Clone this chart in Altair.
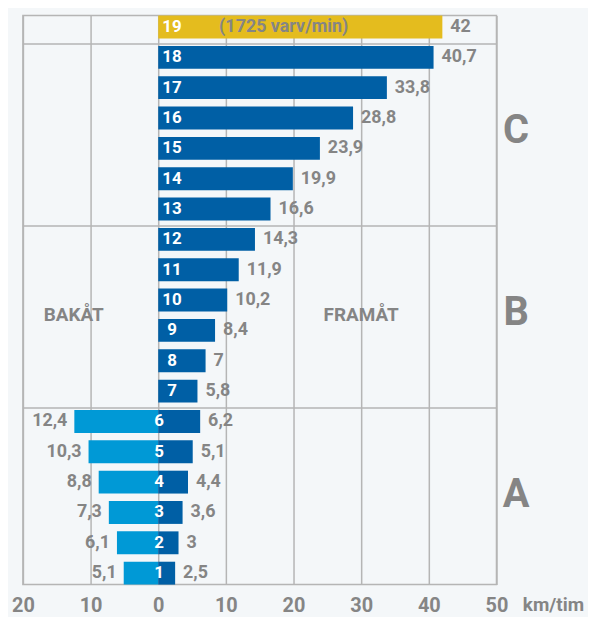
import altair as alt
import pandas as pd

# ---- data ----
gears = list(range(1, 20))
forward = [2.5, 3, 3.6, 4.4, 5.1, 6.2, 5.8, 7, 8.4, 10.2, 11.9, 14.3, 16.6, 19.9, 23.9, 28.8, 33.8, 40.7, 42]
back_gears = [1, 2, 3, 4, 5, 6]
backward = [5.1, 6.1, 7.3, 8.8, 10.3, 12.4]
x_ticks = [-20, -10, 0, 10, 20, 30, 40, 50]
region_letters = ["A", "B", "C"]
region_anchor = [3, 9, 15]
separator_gears = [6, 12, 18]
direction_labels = ["BAKÅT", "FRAMÅT"]
direction_x = [-12.5, 30]
rpm_note = "(1725 varv/min)"
unit = "km/tim"

FONT = "Roboto"
BG = "#f4f7f9"
GRID = "#b5b5b5"
GRAY = "#858585"
DARK = "#005fa5"
LIGHT = "#0099d6"
GOLD = "#e4bc1e"


def fmt(v):
    return f"{v:g}".replace(".", ",")


fwd = pd.DataFrame({"gear": gears, "speed": forward, "label": [fmt(v) for v in forward]})
fwd["kind"] = ["max" if g == 19 else "fwd" for g in gears]
fwd["name"] = [str(g) for g in gears]
bwd = pd.DataFrame({"gear": back_gears, "speed": [-v for v in backward],
                    "label": [fmt(v) for v in backward]})
seps = pd.DataFrame({"gear": separator_gears})
regions = pd.DataFrame({"gear": region_anchor, "letter": region_letters})
dirs = pd.DataFrame({"gear": [9, 9], "x": direction_x, "text": direction_labels})
note = pd.DataFrame({"gear": [19], "text": [rpm_note]})

xscale = alt.Scale(domain=[-20, 50], nice=False, zero=False)
yscale = alt.Scale(domain=gears[::-1], paddingInner=0.246, paddingOuter=0)


def Y(band=0.5):
    return alt.Y("gear:O", scale=yscale, axis=None, bandPosition=band)


xaxis = alt.Axis(values=x_ticks, labelExpr="toString(abs(datum.value))",
                 grid=True, gridColor=GRID, gridWidth=1.5, domain=False, ticks=False,
                 labelFlush=False, labelBound=False,
                 labelFont=FONT, labelFontSize=20, labelFontWeight="bold", labelColor=GRAY,
                 labelPadding=11, title=unit, titleFont=FONT, titleFontSize=19,
                 titleFontWeight="bold", titleColor=GRAY, titleAlign="left",
                 titleBaseline="alphabetic", titleX=502, titleY=26, titleAnchor="start")

back_bars = alt.Chart(bwd).mark_bar(color=LIGHT).encode(
    x=alt.X("speed:Q", scale=xscale, axis=xaxis),
    x2=alt.datum(0),
    y=alt.Y("gear:O", scale=yscale, axis=None),
)

fwd_bars = alt.Chart(fwd).mark_bar().encode(
    x=alt.X("speed:Q", scale=xscale, axis=xaxis),
    x2=alt.datum(0),
    y=alt.Y("gear:O", scale=yscale, axis=None),
    color=alt.Color("kind:N", scale=alt.Scale(domain=["fwd", "max"], range=[DARK, GOLD]), legend=None),
)

sep_rules = alt.Chart(seps).mark_rule(color=GRID, strokeWidth=1.5, yOffset=-2).encode(
    x=alt.datum(-20), x2=alt.datum(50), y=Y(0)
)

txt = dict(font=FONT, fontWeight="bold", fontSize=17, baseline="middle")

gear_hi = alt.Chart(fwd).transform_filter("datum.gear >= 10").mark_text(
    color="white", align="left", dx=4, **txt).encode(x=alt.datum(0), y=Y(), text="name:N")
gear_mid = alt.Chart(fwd).transform_filter("datum.gear >= 7 && datum.gear <= 9").mark_text(
    color="white", align="left", dx=9, **txt).encode(x=alt.datum(0), y=Y(), text="name:N")
gear_lo = alt.Chart(fwd).transform_filter("datum.gear <= 6").mark_text(
    color="white", align="center", dx=1, **txt).encode(x=alt.datum(0), y=Y(), text="name:N")

fwd_labels = alt.Chart(fwd).mark_text(color=GRAY, align="left", dx=8, **{**txt, "fontSize": 18}).encode(
    x="speed:Q", y=Y(), text="label:N")
bwd_labels = alt.Chart(bwd).mark_text(color=GRAY, align="right", dx=-7, **{**txt, "fontSize": 18}).encode(
    x="speed:Q", y=Y(), text="label:N")

note_text = alt.Chart(note).mark_text(color=GRAY, align="left", **{**txt, "fontSize": 18}).encode(
    x=alt.datum(9), y=Y(), text="text:N")

dir_text = alt.Chart(dirs).mark_text(color=GRAY, align="center", dy=-4, **{**txt, "fontSize": 19}).encode(
    x="x:Q", y=Y(0), text="text:N")

region_text = alt.Chart(regions).mark_text(color=GRAY, align="center", dy=-6,
                                           font=FONT, fontWeight="bold", fontSize=40,
                                           baseline="middle").encode(
    x=alt.datum(52.9), y=Y(0), text="letter:N")

chart = alt.layer(
    back_bars, fwd_bars, sep_rules, gear_hi, gear_mid, gear_lo,
    fwd_labels, bwd_labels, note_text, dir_text, region_text
).properties(
    width=476, height=572,
    autosize=alt.AutoSizeParams(type="none"),
    padding={"left": 15, "top": 6, "right": 92, "bottom": 31},
    background=BG,
).configure_view(stroke=GRID, strokeWidth=1.5, fill=BG)

chart.save("out.html", embed_options={"renderer": "svg", "actions": False})
